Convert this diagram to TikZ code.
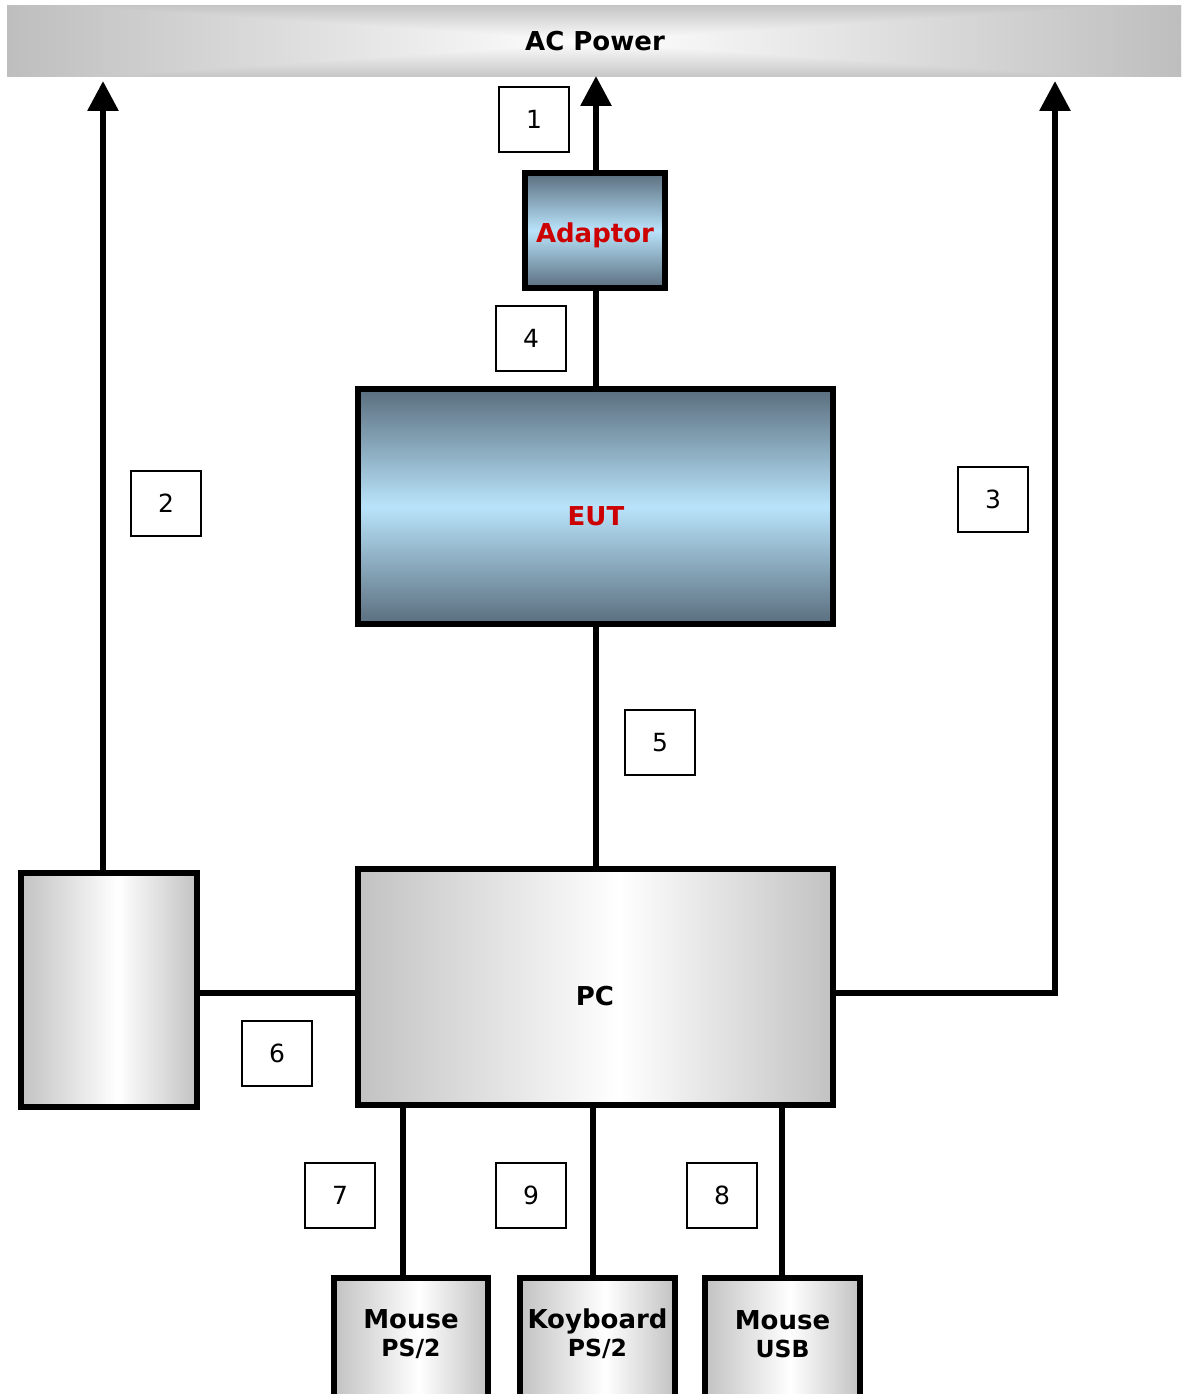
\documentclass[tikz,border=0pt]{standalone}
\usepackage{fontspec}
\setmainfont{DejaVu Sans}
\usetikzlibrary{arrows.meta}
\definecolor{gb}{HTML}{C2C2C2}
\definecolor{barg}{HTML}{BEBEBE}
\definecolor{barv}{HTML}{C6C6C6}
\definecolor{slate}{HTML}{5A6E7E}
\definecolor{sky}{HTML}{B9E3FB}
\definecolor{redt}{HTML}{CC0000}
\pgfdeclarehorizontalshading{greybox}{100bp}{color(0bp)=(gb); color(25bp)=(gb); color(52.5bp)=(white); color(75bp)=(gb); color(100bp)=(gb)}
\pgfdeclareverticalshading{barvert}{100bp}{color(0bp)=(barv); color(25bp)=(barv); color(50bp)=(white); color(75bp)=(barv); color(100bp)=(barv)}
\tikzset{
  bigfont/.style={font=\bfseries\fontsize{26}{30}\selectfont},
  numbox/.style={draw, line width=2pt, fill=white, inner sep=0pt, minimum width=70pt, minimum height=65pt, font=\fontsize{25}{28}\selectfont},
  bluebox/.style={draw, line width=6pt, inner sep=0pt, top color=slate, bottom color=slate, middle color=sky},
  greyboxst/.style={draw, line width=6pt, inner sep=0pt, shading=greybox},
  boxtext/.style={bigfont, inner sep=0pt},
  wire/.style={line width=6pt},
  arr/.style={line width=6pt, -{Triangle[width=30pt,length=30pt]}}
}
\begin{document}
\begin{tikzpicture}[x=1pt,y=-1pt]
\useasboundingbox (0,0) rectangle (1181,1394);
\fill[white] (0,0) rectangle (1181,1394);
\begin{scope}
\clip (0,0) rectangle (1181,1394);
% AC power bar
\shade[left color=barg, right color=barg, middle color=white] (7,6) rectangle (1181,77);
\begin{scope}[blend mode=darken]
\shade[shading=barvert] (7,6) rectangle (1181,77);
\end{scope}
\node[bigfont] (ac) at (595,41) {AC Power};
% coordinates
\coordinate (tipL) at (103,81);
\coordinate (tipC) at (596,76);
\coordinate (tipR) at (1055,81);
\coordinate (xL) at (103,0);
\coordinate (xC) at (596,0);
\coordinate (yM) at (0,993);
\coordinate (cornerR) at (1055,993);
\coordinate (x7) at (403,0);
\coordinate (x9) at (593,0);
\coordinate (x8) at (782,0);
% main boxes
\node[bluebox, minimum width=140pt, minimum height=115pt] (adaptor) at (595,230.5) {};
\node[bluebox, minimum width=475pt, minimum height=235pt] (eut) at (595.5,506.5) {};
\node[greyboxst, minimum width=475pt, minimum height=236pt] (pc) at (595.5,987) {};
\node[greyboxst, minimum width=176pt, minimum height=234pt] (aux) at (109,990) {};
\node[greyboxst, minimum width=154pt, minimum height=125pt] (m1) at (411,1340) {};
\node[greyboxst, minimum width=155pt, minimum height=125pt] (kb) at (597.5,1340) {};
\node[greyboxst, minimum width=155pt, minimum height=125pt] (m2) at (782.5,1340) {};
\node[boxtext, text=redt] (adaptorT) at (595,235.5) {Adaptor};
\node[boxtext, text=redt] (eutT) at (596,516) {EUT};
\node[boxtext] (pcT) at (595,996) {PC};
\node[boxtext, align=center] (m1t) at (411,1334) {Mouse\\[-2pt]{\fontsize{23.5}{26}\selectfont PS/2}};
\node[boxtext, align=center] (kbt) at (597.5,1334) {Koyboard\\[-2pt]{\fontsize{23.5}{26}\selectfont PS/2}};
\node[boxtext, align=center] (m2t) at (782.5,1334) {Mouse\\[-2pt]{\fontsize{23.5}{26}\selectfont USB}};
% connectors
\draw[arr] (adaptor.north -| xC) -- (tipC);
\draw[wire] (adaptor.south -| xC) -- (eut.north -| xC);
\draw[wire] (eut.south -| xC) -- (pc.north -| xC);
\draw[arr] (aux.north -| xL) -- (tipL);
\draw[wire] (aux.east |- yM) -- (pc.west |- yM);
\draw[arr] (pc.east |- yM) -- (cornerR) -- (tipR);
\draw[wire] (pc.south -| x7) -- (m1.north -| x7);
\draw[wire] (pc.south -| x9) -- (kb.north -| x9);
\draw[wire] (pc.south -| x8) -- (m2.north -| x8);
% number labels
\node[numbox] (n1) at (534,119.5) {1};
\node[numbox] (n4) at (531,338) {4};
\node[numbox] (n2) at (166,503) {2};
\node[numbox] (n3) at (993,499) {3};
\node[numbox] (n5) at (660,742.5) {5};
\node[numbox] (n6) at (277,1053.5) {6};
\node[numbox] (n7) at (340,1195) {7};
\node[numbox] (n9) at (531,1195) {9};
\node[numbox] (n8) at (722,1195) {8};
\end{scope}
\end{tikzpicture}
\end{document}
